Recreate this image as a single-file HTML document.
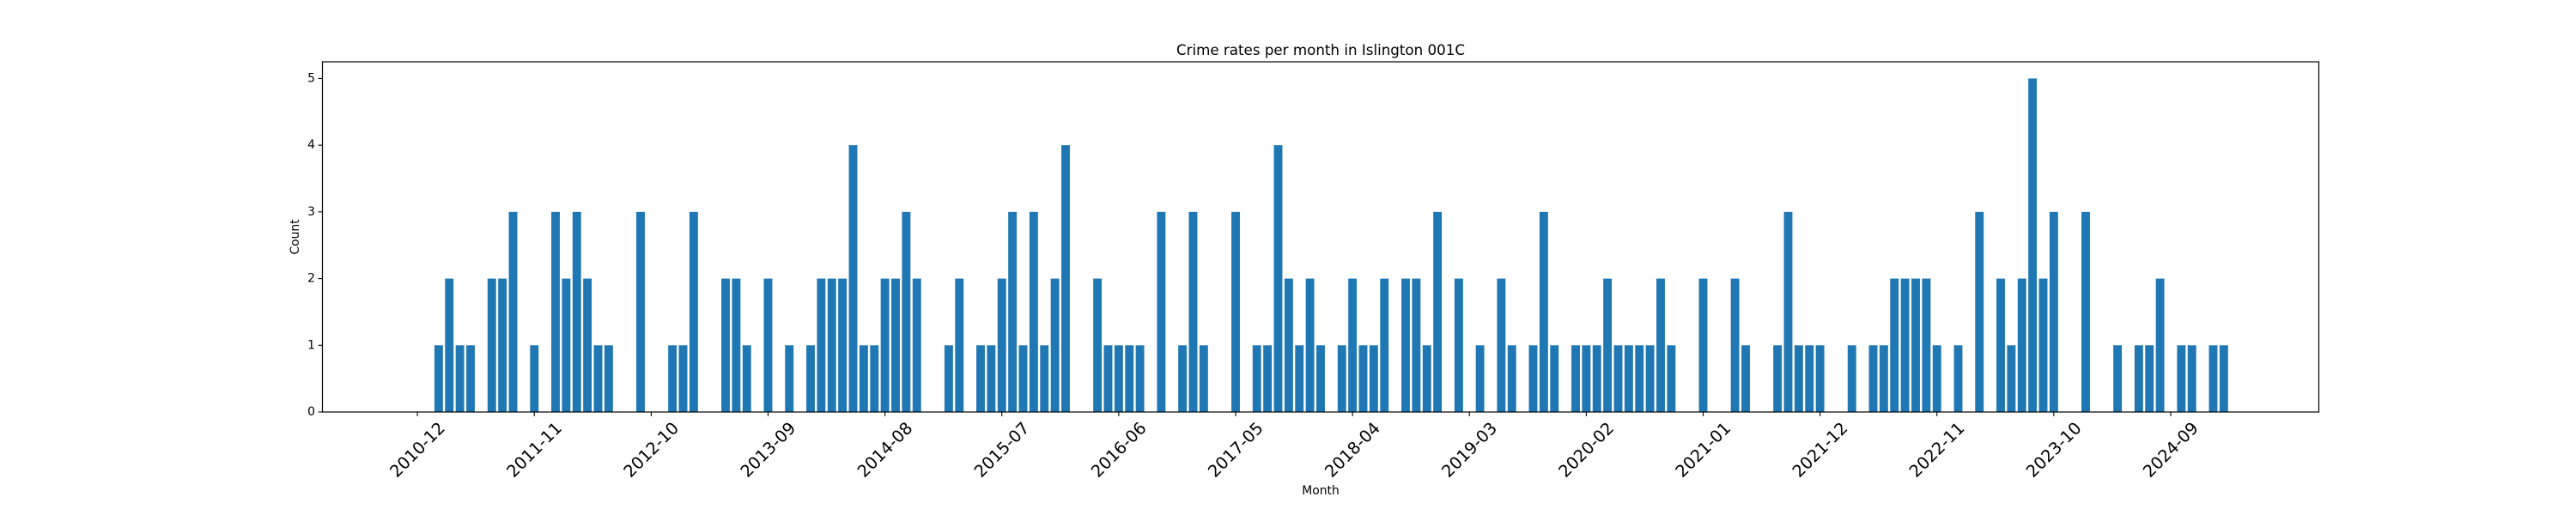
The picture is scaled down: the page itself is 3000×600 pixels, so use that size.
<!DOCTYPE html>
<html><head><meta charset="utf-8"><style>
html,body{margin:0;padding:0;background:#fff;}
svg{display:block;font-family:"DejaVu Sans","Liberation Sans",sans-serif;}
</style></head><body>
<svg id="chart" width="3000" height="600" viewBox="0 0 3000 600">
<rect x="0" y="0" width="3000" height="600" fill="#fff"/>
<text x="1538" y="58" text-anchor="middle" dominant-baseline="central" font-size="16.7" fill="#000">Crime rates per month in Islington 001C</text>
<g id="bars"></g>
<g id="axes"></g>
<text x="1538" y="572" text-anchor="middle" dominant-baseline="central" font-size="13.9" fill="#000">Month</text>
<text x="0" y="0" transform="translate(344,276) rotate(-90)" text-anchor="middle" dominant-baseline="central" font-size="13.9" fill="#000">Count</text>
</svg>
<script>
const startMonth = "2010-12";
const counts = [0,0,1,2,1,1,0,2,2,3,0,1,0,3,2,3,2,1,1,0,0,3,0,0,1,1,3,0,0,2,2,1,0,2,0,1,0,1,2,2,2,4,1,1,2,2,3,2,0,0,1,2,0,1,1,2,3,1,3,1,2,4,0,0,2,1,1,1,1,0,3,0,1,3,1,0,0,3,0,1,1,4,2,1,2,1,0,1,2,1,1,2,0,2,2,1,3,0,2,0,1,0,2,1,0,1,3,1,0,1,1,1,2,1,1,1,1,2,1,0,0,2,0,0,2,1,0,0,1,3,1,1,1,0,0,1,0,1,1,2,2,2,2,1,0,1,0,3,0,2,1,2,5,2,3,0,0,3,0,0,1,0,1,1,2,0,1,1,0,1,1];
const tickLabels = ["2010-12","2011-11","2012-10","2013-09","2014-08","2015-07","2016-06","2017-05","2018-04","2019-03","2020-02","2021-01","2021-12","2022-11","2023-10","2024-09"];
const yTicks = [0,1,2,3,4,5];

const NS = "http://www.w3.org/2000/svg";
function mk(tag, attrs){const e=document.createElementNS(NS,tag);for(const k in attrs)e.setAttribute(k,attrs[k]);return e;}
const sy=+startMonth.slice(0,4), sm=+startMonth.slice(5,7);
const categories = counts.map((_,i)=>{const t=sm-1+i;const y=sy+Math.floor(t/12);const m=t%12+1;return y+"-"+(m<10?"0":"")+m;});
const L=375.5,R=2700.5,T=72,B=480;
const n=categories.length;
const lo=-0.4-0.05*(n-1+0.8), hi=n-1+0.4+0.05*(n-1+0.8);
const xs=i=>L+(i-lo)/(hi-lo)*(R-L);
const ymax=Math.max(...counts)*1.05;
const ys=v=>B-v/ymax*(B-T);
const bw=(xs(0.8)-xs(0));
const bars=document.getElementById('bars');
counts.forEach((v,i)=>{
  if(v<=0)return;
  const r=mk('rect',{x:xs(i)-bw/2,y:ys(v),width:bw,height:ys(0)-ys(v),fill:'#1f77b4'});
  
  
  bars.appendChild(r);
});
const ax=document.getElementById('axes');
const frame=mk('rect',{x:L,y:T,width:R-L,height:B-T,fill:'none',stroke:'#000','stroke-width':1.2});


ax.appendChild(frame);
yTicks.forEach(v=>{
  const y=ys(v);
  const l=mk('line',{x1:L-4.9,x2:L,y1:y,y2:y,stroke:'#000','stroke-width':1.1});
  
  
  ax.appendChild(l);
  const t=mk('text',{x:L-8.5,y:y,'text-anchor':'end','dominant-baseline':'central','font-size':13.9,fill:'#000'});
  t.textContent=v;
  
  
  ax.appendChild(t);
});
tickLabels.forEach(lab=>{
  const i=categories.indexOf(lab); if(i<0)return;
  const x=xs(i);
  const l=mk('line',{x1:x,x2:x,y1:B,y2:B+4.9,stroke:'#000','stroke-width':1.1});
  
  
  ax.appendChild(l);
  const cy=524;
  const t=mk('text',{x:x,y:cy,'text-anchor':'middle','dominant-baseline':'central','font-size':19.4,fill:'#000',transform:'rotate(-45 '+x+' '+cy+')'});
  t.textContent=lab;
  
  
  ax.appendChild(t);
});
</script>
</body></html>
